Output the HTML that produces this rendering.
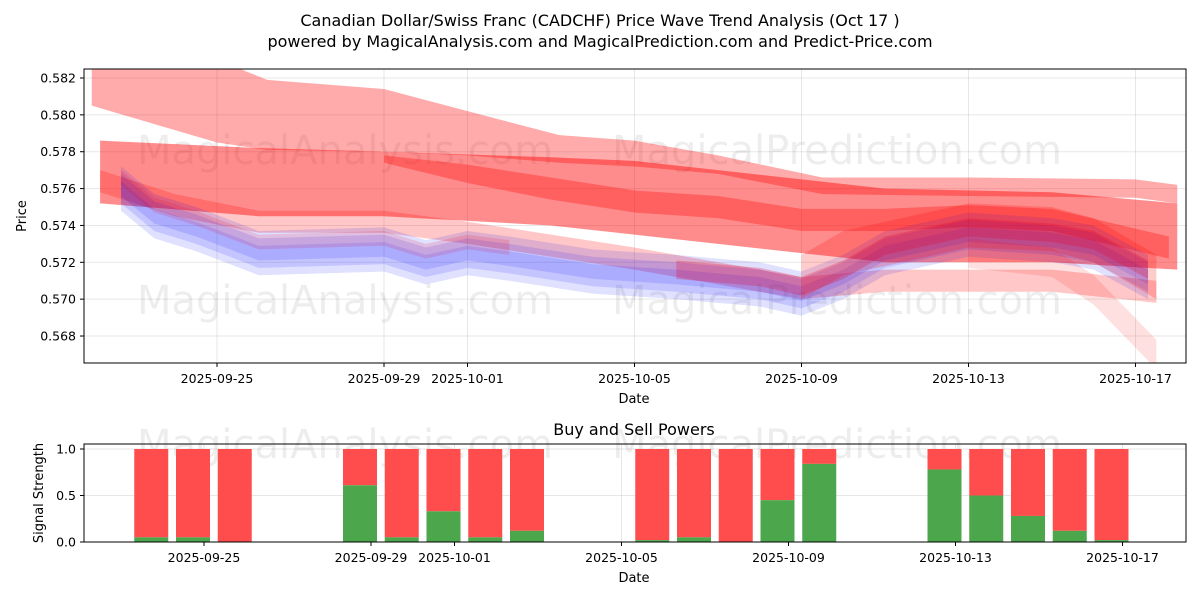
<!DOCTYPE html>
<html><head><meta charset="utf-8"><style>
body{margin:0;background:#fff;}
svg text{font-family:"DejaVu Sans","Liberation Sans",sans-serif;fill:#000;}
</style></head><body>
<svg id="c" width="1200" height="600" xmlns="http://www.w3.org/2000/svg">
<rect width="1200" height="600" fill="#fff"/>
<text x="600" y="26" font-size="16" text-anchor="middle">Canadian Dollar/Swiss Franc (CADCHF) Price Wave Trend Analysis (Oct 17 )</text>
<text x="600" y="47" font-size="16" text-anchor="middle">powered by MagicalAnalysis.com and MagicalPrediction.com and Predict-Price.com</text>
<g id="topchart"></g>
<g id="botchart"></g>
</svg>
<script>
const NS="http://www.w3.org/2000/svg";
// ---- data: top chart (day offsets from 2025-09-25) ----
const xTickLabels=["2025-09-25","2025-09-29","2025-10-01","2025-10-05","2025-10-09","2025-10-13","2025-10-17"];
const xTickDays=[0,4,6,10,14,18,22];
const yTicks=[0.568,0.570,0.572,0.574,0.576,0.578,0.580,0.582];
const b1Days=[-3,-1.5,0,1.2,4,6,8.2,10,12,14.5,18,22,23];
const b1Up=[0.5840,0.5838,0.5830,0.5819,0.5814,0.5802,0.5789,0.5786,0.5778,0.5766,0.5766,0.5765,0.5762];
const b1Lo=[0.5805,0.5795,0.5785,0.5781,0.5780,0.5778,0.5774,0.5772,0.5768,0.5757,0.5756,0.5755,0.5752];
const b2Days=[-2.8,1,4,8,10,12,14,16,20,23];
const b2Up=[0.5786,0.5782,0.5780,0.5777,0.5775,0.5770,0.5765,0.5760,0.5758,0.5752];
const b2Lo=[0.5752,0.5745,0.5745,0.5740,0.5735,0.5730,0.5725,0.5720,0.5720,0.5716];
const b3Days=[4,6,8,10,12,14,16,18,20,22.8];
const b3Mid=[0.5776,0.5768,0.5760,0.5753,0.5750,0.5743,0.5743,0.5745,0.5743,0.5728];
const b3Half=[0.0002,0.0005,0.0006,0.0006,0.0006,0.0006,0.0006,0.0006,0.0006,0.0006];
const b4Days=[-2.8,-1,1,4,6,8,10,12,14,16,20,22.5];
const b4Up=[0.5770,0.5757,0.5748,0.5748,0.5742,0.5735,0.5728,0.5720,0.5712,0.5716,0.5716,0.5710];
const b5Days=[14,15,16,18,20,21,22.5];
const b5Mid=[0.5712,0.5725,0.5730,0.5740,0.5738,0.5732,0.5712];
const b6Days=[18,20,21,22.5];
const b6Mid=[0.5725,0.5720,0.5705,0.5670];
const blueDays=[-2.3,-1.5,-0.5,1,4,5,6,7,9,11,12,13,14,15,16,18,20,21,22.3];
const blueMid=[0.5760,0.5745,0.5738,0.5725,0.5727,0.5720,0.5725,0.5722,0.5715,0.5712,0.5710,0.5708,0.5703,0.5712,0.5725,0.5735,0.5732,0.5728,0.5712];
// ---- data: bottom chart ----
const barDays=[-1,0,1,4,5,6,7,8,11,12,13,14,15,18,19,20,21,22];
const buyVals=[0.05,0.05,0.0,0.61,0.05,0.33,0.05,0.12,0.02,0.05,0.0,0.45,0.84,0.78,0.5,0.28,0.12,0.02];
const botYTicks=[0.0,0.5,1.0];

const X=d=>217+d*41.75;
const Y=v=>78+(0.582-v)/0.002*36.86;
const XB=d=>204+d*41.75;
const YB=v=>542-v*93;
function el(tag,attrs,parent){const e=document.createElementNS(NS,tag);for(const k in attrs)e.setAttribute(k,attrs[k]);parent.appendChild(e);return e;}
const topG=document.getElementById('topchart'), botG=document.getElementById('botchart');
const defs=el('defs',{},topG);
const cp=el('clipPath',{id:'cp'},defs);el('rect',{x:84,y:69,width:1102,height:294},cp);
xTickDays.forEach(d=>{el('line',{x1:X(d),x2:X(d),y1:69,y2:363,stroke:'#b0b0b0','stroke-opacity':0.3},topG);});
yTicks.forEach(v=>{el('line',{x1:84,x2:1186,y1:Y(v),y2:Y(v),stroke:'#b0b0b0','stroke-opacity':0.3},topG);});
[[345,150,'MagicalAnalysis.com'],[837,150,'MagicalPrediction.com'],[345,300,'MagicalAnalysis.com'],[837,300,'MagicalPrediction.com']].forEach(w=>{
 const t=el('text',{x:w[0],y:w[1]+14,'font-size':40,'text-anchor':'middle',fill:'#888','fill-opacity':0.07},topG);t.textContent=w[2];
 
 
});
const g=el('g',{'clip-path':'url(#cp)'},topG);
function band(days,up,lo,color,op,name){
 let pts=days.map((d,i)=>X(d)+','+Y(up[i]));
 for(let i=days.length-1;i>=0;i--)pts.push(X(days[i])+','+Y(lo[i]));
 const p=el('polygon',{points:pts.join(' '),fill:color,'fill-opacity':op},g);
 
 
}
band(b1Days,b1Up,b1Lo,'#f00',0.33,'red-band-upper');
band(b2Days,b2Up,b2Lo,'#f00',0.45,'red-band-main');
band(b4Days,b4Up,b4Up.map(v=>v-0.0012),'#f00',0.22,'red-band-lower');
band(b3Days,b3Mid.map((v,i)=>v+b3Half[i]),b3Mid.map((v,i)=>v-b3Half[i]),'#f00',0.3,'red-band-core');
[-0.0006,-0.0002,0.0002,0.0006].forEach((o,k)=>{
 band(blueDays,blueMid.map(v=>v+o+0.0006),blueMid.map(v=>v+o-0.0006),'#00f',0.12,'blue-band-'+k);
});
const lateDays=blueDays.filter(d=>d>=11), lateMid=blueMid.filter((v,i)=>blueDays[i]>=11);
band(lateDays,lateMid.map(v=>v+0.0009),lateMid.map(v=>v-0.0001),'#e00030',0.25,'red-band-follow');
const earlyDays=blueDays.filter(d=>d<=7), earlyMid=blueMid.filter((v,i)=>blueDays[i]<=7);
band(earlyDays,earlyMid.map(v=>v+0.0010),earlyMid.map(v=>v+0.0002),'#e00030',0.15,'red-band-early');
band(b5Days,b5Mid.map(v=>v+0.0012),b5Mid.map(v=>v-0.0012),'#f00',0.2,'red-band-hump');
band(b6Days,b6Mid.map(v=>v+0.0008),b6Mid.map(v=>v-0.0008),'#f00',0.12,'red-band-drop');
el('rect',{x:84,y:69,width:1102,height:294,fill:'none',stroke:'#000','stroke-width':1},topG);
xTickDays.forEach((d,i)=>{el('line',{x1:X(d),x2:X(d),y1:363,y2:367,stroke:'#000'},topG);
 const t=el('text',{x:X(d),y:383,'font-size':12.5,'text-anchor':'middle'},topG);t.textContent=xTickLabels[i];
 
 });
yTicks.forEach(v=>{el('line',{x1:80,x2:84,y1:Y(v),y2:Y(v),stroke:'#000'},topG);
 const t=el('text',{x:76,y:Y(v)+4.5,'font-size':12.5,'text-anchor':'end'},topG);t.textContent=v.toFixed(3);
 
 });
let t=el('text',{x:634,y:403,'font-size':13,'text-anchor':'middle'},topG);t.textContent='Date';


t=el('text',{x:26,y:216,'font-size':13,'text-anchor':'middle',transform:'rotate(-90 26 216)'},topG);t.textContent='Price';


t=el('text',{x:634,y:435,'font-size':16,'text-anchor':'middle'},botG);t.textContent='Buy and Sell Powers';


botYTicks.forEach(v=>{el('line',{x1:84,x2:1186,y1:YB(v),y2:YB(v),stroke:'#b0b0b0','stroke-opacity':0.3},botG);});
xTickDays.forEach(d=>{el('line',{x1:XB(d),x2:XB(d),y1:444,y2:542,stroke:'#b0b0b0','stroke-opacity':0.3},botG);});
[[345,'MagicalAnalysis.com'],[837,'MagicalPrediction.com']].forEach(w=>{
 const tt=el('text',{x:w[0],y:458,'font-size':40,'text-anchor':'middle',fill:'#888','fill-opacity':0.07},botG);tt.textContent=w[1];
 
 });
barDays.forEach((d,i)=>{
 const cx=XB(d)-11, b=buyVals[i];
 const r=el('rect',{x:cx-17,y:YB(1),width:34,height:YB(b)-YB(1),fill:'#ff4d4d'},botG);
 
 
 const gr=el('rect',{x:cx-17,y:YB(b),width:34,height:YB(0)-YB(b),fill:'#4ca64c'},botG);
 
 
});
el('rect',{x:84,y:444,width:1102,height:98,fill:'none',stroke:'#000'},botG);
xTickDays.forEach((d,i)=>{el('line',{x1:XB(d),x2:XB(d),y1:542,y2:546,stroke:'#000'},botG);
 const tt=el('text',{x:XB(d),y:562,'font-size':12.5,'text-anchor':'middle'},botG);tt.textContent=xTickLabels[i];
 
 });
botYTicks.forEach(v=>{el('line',{x1:80,x2:84,y1:YB(v),y2:YB(v),stroke:'#000'},botG);
 const tt=el('text',{x:76,y:YB(v)+4.5,'font-size':12.5,'text-anchor':'end'},botG);tt.textContent=v.toFixed(1);
 
 });
t=el('text',{x:634,y:582,'font-size':13,'text-anchor':'middle'},botG);t.textContent='Date';


t=el('text',{x:43,y:493,'font-size':13,'text-anchor':'middle',transform:'rotate(-90 43 493)'},botG);t.textContent='Signal Strength';


</script>
</body></html>
